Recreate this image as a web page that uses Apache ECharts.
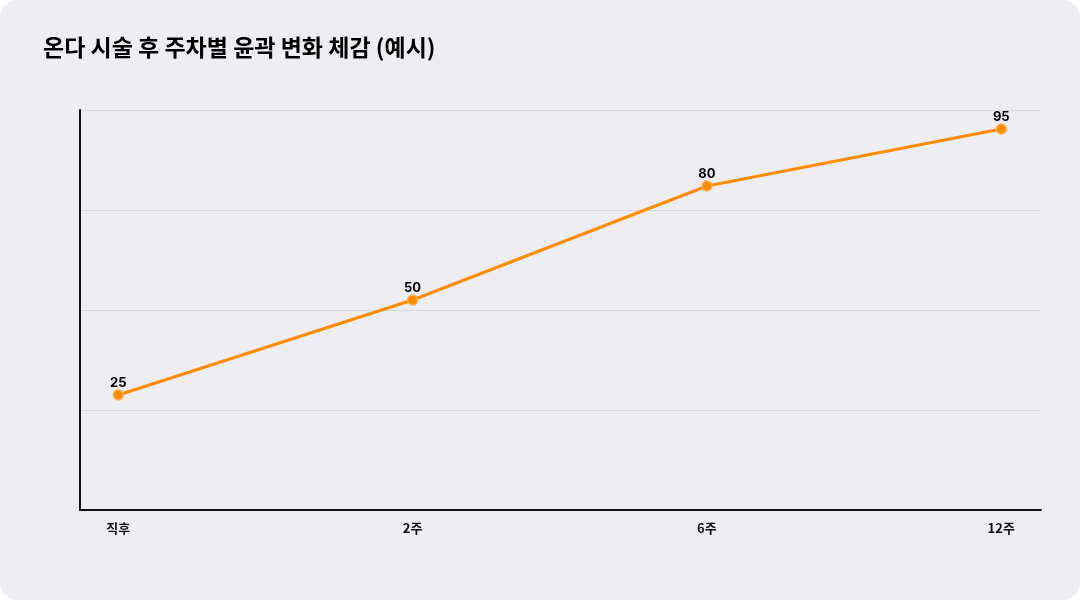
<!DOCTYPE html><html><head><meta charset="utf-8">
<script src="https://cdn.jsdelivr.net/npm/echarts@6/dist/echarts.min.js"></script>
<style>html,body{margin:0;background:#fff}#c{width:1080px;height:600px;background:#eeedf2;border-radius:18px;overflow:hidden}</style>
</head><body><div id="c"></div><script>
const categories=['직후','2주','6주','12주'];
const values=[25,50,80,95];
const ch=echarts.init(document.getElementById('c'));
const yMin=-5.2632,yInt=26.3158;
ch.setOption({
 textStyle:{fontFamily:'Inter, "Noto Sans CJK KR", sans-serif'},
 title:{text:'온다 시술 후 주차별 윤곽 변화 체감 (예시)',left:38,top:31,textStyle:{fontSize:23,fontWeight:'bold',color:'#000',fontFamily:'"Noto Sans CJK KR", sans-serif'}},
 grid:{left:80,right:39,top:110,bottom:90},
 xAxis:{type:'value',min:-0.13,max:3.135,splitLine:{show:false},
  axisLine:{show:true,onZero:false,lineStyle:{color:'#111',width:2}},axisTick:{show:false},
  axisLabel:{customValues:[0,1,2,3],formatter:v=>categories[Math.round(v)],color:'#111',fontWeight:'bold',fontSize:13,margin:12,fontFamily:'"Noto Sans CJK KR", sans-serif'}},
 yAxis:{type:'value',min:yMin,max:yMin+4*yInt,interval:yInt,axisLabel:{show:false},axisTick:{show:false},
  axisLine:{show:true,onZero:false,lineStyle:{color:'#111',width:2}},splitLine:{lineStyle:{color:'#d9d8de'}}},
 series:[{type:'line',data:values.map((v,i)=>[i,v]),lineStyle:{color:'#ff8c00',width:3},
  symbol:'circle',symbolSize:10,itemStyle:{color:'#ff8c00',borderColor:'#ffb04d',borderWidth:1.5},
  label:{show:true,position:'top',distance:0,color:'#000',fontWeight:'bold',fontSize:13}}]
});
</script></body></html>
